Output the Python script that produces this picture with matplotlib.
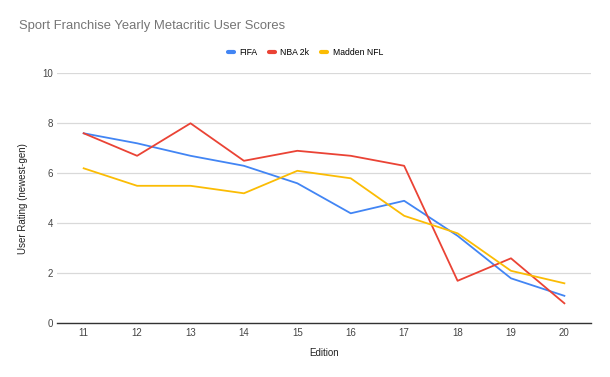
import numpy as np
import matplotlib
matplotlib.use('Agg')
import matplotlib.pyplot as plt

editions = [11, 12, 13, 14, 15, 16, 17, 18, 19, 20]
fifa = [7.6, 7.2, 6.7, 6.3, 5.6, 4.4, 4.9, 3.5, 1.8, 1.1]
nba_2k = [7.6, 6.7, 8.0, 6.5, 6.9, 6.7, 6.3, 1.7, 2.6, 0.8]
madden_nfl = [6.2, 5.5, 5.5, 5.2, 6.1, 5.8, 4.3, 3.6, 2.1, 1.6]

plt.rcParams['font.family'] = ['Liberation Sans', 'DejaVu Sans']

fig = plt.figure(figsize=(6.1, 3.77), dpi=100)
ax = fig.add_axes([0.0934, 0.1424, 0.8756, 0.6632])

ax.plot(editions, fifa, color='#4285F4', lw=1.3, label='FIFA')
ax.plot(editions, nba_2k, color='#EA4335', lw=1.3, label='NBA 2k')
ax.plot(editions, madden_nfl, color='#FBBC04', lw=1.3, label='Madden NFL')

ax.set_xlim(10.5, 20.5)
ax.set_ylim(0, 10)
ax.set_xticks(editions)
ax.set_yticks([0, 2, 4, 6, 8, 10])
ax.grid(axis='y', color='#d9d9d9', lw=0.9)
ax.set_axisbelow(True)
for s in ['top', 'right', 'left']:
    ax.spines[s].set_visible(False)
ax.spines['bottom'].set_color('#333333')
ax.spines['bottom'].set_linewidth(1.0)
ax.tick_params(axis='both', length=0, labelsize=7, colors='#444444')
ax.tick_params(axis='y', pad=3)
ax.tick_params(axis='x', pad=3.5)

ax.set_xlabel('Edition', fontsize=7, color='#222222', va='center')
ax.set_ylabel('User Rating (newest-gen)', fontsize=7, color='#222222', va='center')
ax.xaxis.set_label_coords(0.5, -0.119)
ax.yaxis.set_label_coords(-0.064, 0.5)

fig.text(0.031, 0.931, 'Sport Franchise Yearly Metacritic User Scores', fontsize=9.4,
         color='#757575', va='center', ha='left')
leg = ax.legend(loc='center', bbox_to_anchor=(0.465, 1.083), ncol=3, frameon=False,
                fontsize=6.2, handlelength=0.7, handletextpad=0.6, columnspacing=1.4)
for ln in leg.get_lines():
    ln.set_linewidth(3)
    ln.set_solid_capstyle('round')

fig.savefig('out.png', dpi=100)
